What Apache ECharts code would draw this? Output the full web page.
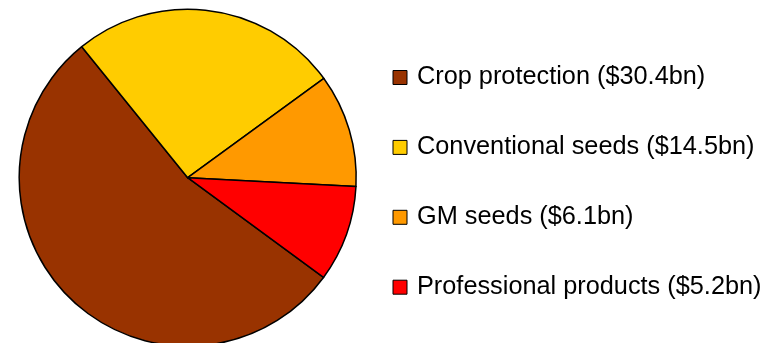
<!DOCTYPE html>
<html><head><meta charset="utf-8">
<script src="https://cdn.jsdelivr.net/npm/echarts@6/dist/echarts.min.js"></script>
<style>html,body{margin:0;padding:0;background:#fff}#c{width:766px;height:343px}</style>
</head><body><div id="c"></div>
<script>
const categories = ["Crop protection ($30.4bn)", "Conventional seeds ($14.5bn)", "GM seeds ($6.1bn)", "Professional products ($5.2bn)"];
const values = [30.4, 14.5, 6.1, 5.2];
const colors = ["#993300", "#FFCC00", "#FF9900", "#FF0000"];

const chart = echarts.init(document.getElementById('c'), null, {renderer: 'canvas'});
chart.setOption({
  animation: false,
  backgroundColor: '#fff',
  legend: {
    orient: 'vertical',
    left: 392.5,
    top: 62.5,
    padding: 0,
    itemWidth: 14,
    itemHeight: 14,
    itemGap: 39.9,
    icon: 'rect',
    itemStyle: {borderColor: '#000', borderWidth: 1},
    textStyle: {fontFamily: 'Liberation Sans, Arial, sans-serif', fontSize: 25.3, color: '#000', lineHeight: 30, padding: [0,0,0,5]},
    data: categories,
    selectedMode: false
  },
  series: [{
    type: 'pie',
    center: [187.7, 177.7],
    radius: 168.5,
    startAngle: 323.7,
    clockwise: true,
    label: {show: false},
    labelLine: {show: false},
    emphasis: {disabled: true},
    itemStyle: {borderColor: '#000', borderWidth: 1.5},
    data: categories.map((n, i) => ({name: n, value: values[i], itemStyle: {color: colors[i]}}))
  }]
});
</script></body></html>
